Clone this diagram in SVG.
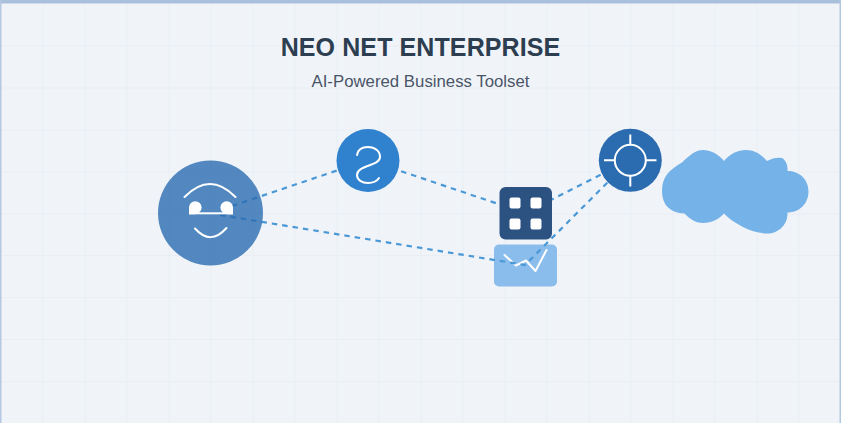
<svg xmlns="http://www.w3.org/2000/svg" width="841" height="423" viewBox="0 0 841 423">
<style>
.g{stroke:#eaeef3;stroke-width:1.2;fill:none}
.w{stroke:#fff;stroke-width:2;fill:none;stroke-linecap:round;stroke-linejoin:round}
.b{stroke:#fff;stroke-width:2;fill:none}
.c{stroke:#4a98d6;stroke-width:2.200;stroke-dasharray:5.500 5;fill:none}
.t{font-family:"Liberation Sans",Arial,sans-serif;text-anchor:middle}
</style>
<rect width="841" height="423" fill="#f0f4f9"/>
<g id="grid">
<path class="g" d="M43 4V423M85 4V423M127 4V423M169 4V423M211 4V423M253 4V423M295 4V423M337 4V423M379 4V423M421 4V423M463 4V423M505 4V423M547 4V423M589 4V423M631 4V423M673 4V423M715 4V423M757 4V423M799 4V423"/>
<path class="g" d="M2 46H841M2 88H841M2 130H841M2 172H841M2 214H841M2 255.500H841M2 297.500H841M2 339.500H841M2 381.500H841"/>
</g>
<rect x="0" y="0" width="841" height="3.500" fill="#a9bfdc"/>
<rect x="0" y="0" width="1.500" height="423" fill="#b4c8e2"/>
<rect x="839.500" y="0" width="1.500" height="423" fill="#b4c8e2"/>
<text class="t" x="420.500" y="56" font-size="25" font-weight="700" letter-spacing="0.100" fill="#2c3e50">NEO NET ENTERPRISE</text>
<text class="t" x="420.500" y="87" font-size="16.800" fill="#4a5568">AI-Powered Business Toolset</text>
<g id="node-chart">
<rect x="494" y="244.500" width="63" height="42" rx="5" fill="#8abdec"/>
<path class="w" d="M504.500 255L516 265.500L526 260.500L535.500 271L546.500 250"/>
</g>
<g id="connectors">
<path class="c" d="M232 206L368 160L525 213L630 160"/>
<path class="c" d="M220 215L525 265L630 160"/>
</g>
<g id="node-person">
<circle cx="210.500" cy="213" r="52.500" fill="#2b6cb0" opacity="0.800"/>
<path class="w" d="M184.500 197Q210 171 235.500 197M195 228.500Q210.500 246 226.500 228"/>
<g fill="#fff">
<circle cx="195.300" cy="207.500" r="6.300"/>
<circle cx="226.700" cy="207.500" r="6.300"/>
<rect x="189" y="207.500" width="6.300" height="6.800"/>
<rect x="226.700" y="207.500" width="6.300" height="6.800"/>
<rect x="189" y="212.300" width="44" height="2"/>
</g>
</g>
<g id="node-s">
<circle cx="368" cy="160.500" r="31.500" fill="#3182ce"/>
<path class="w" d="M357 155C358 149 363 147 368 147C375 147 380 151 380 157C380 166 357 165 357 175C357 180 362 183 368 183C373 183 377 181 379 178"/>
</g>
<g id="node-grid">
<rect x="499.500" y="187" width="52.500" height="52.500" rx="6" fill="#2c5282"/>
<g fill="#fff"><rect x="509.500" y="197.500" width="11" height="11" rx="2"/><rect x="530.500" y="197.500" width="11" height="11" rx="2"/><rect x="509.500" y="218.500" width="11" height="11" rx="2"/><rect x="530.500" y="218.500" width="11" height="11" rx="2"/></g>
</g>
<g id="node-target">
<circle cx="630.300" cy="160.300" r="31.500" fill="#2b6cb0"/>
<circle class="b" cx="630.300" cy="160.300" r="15.500"/>
<path class="b" d="M630.300 134.500V144.800M630.300 175.800V186.500M604 160.300H614.800M645.800 160.300H656.500"/>
</g>
<g id="node-cloud">
<path fill="#75b2e8" d="M662 191C662 177 669 170 682 162.500C689 156 695 150 703 150C712 150 719 155 724 161C729 155 736 150 746 150C755 150 762 155 767 161C772 158 778 157 782 158C786 160 788 166 787.500 171C799 171 808.500 179 808.500 191.500C808.500 204 799 212.500 787.500 212.500C788 224 779 234 766 233.500C752 233 734 224 724 213.500C719 219 712 223 703 223C695 223 689 218 684.500 213.500C670 213 662 205 662 191Z"/>
</g>
</svg>
